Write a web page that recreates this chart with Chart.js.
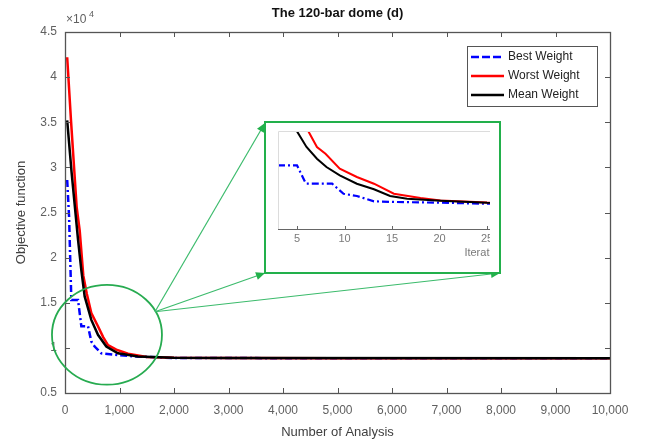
<!DOCTYPE html>
<html>
<head>
<meta charset="utf-8">
<script src="https://cdn.jsdelivr.net/npm/chart.js@4.4.0/dist/chart.umd.min.js"></script>
<style>
html, body { margin: 0; padding: 0; background: #fff; }
#wrap { position: relative; width: 647px; height: 440px; }
#main { position: absolute; left: 0; top: 0; }
#zoomBox { position: absolute; left: 264px; top: 121px; width: 233px; height: 149px; border: 2px solid #22b04b; background: #fff; }
#zoomClip { position: absolute; left: 2px; top: 2px; width: 222px; height: 145px; overflow: hidden; }
#inset { position: absolute; left: 0; top: 0; }
</style>
</head>
<body>
<div id="wrap">
  <canvas id="main" width="647" height="440"></canvas>
  <div id="zoomBox"><div id="zoomClip"><canvas id="inset" width="440" height="145"></canvas></div></div>
</div>
<script>
// main chart data (number of analyses -> objective function)
const bestX  = [40, 75, 116, 239, 300, 422, 483, 544, 667, 911, 1278, 2000, 4000, 10000];
const bestY  = [28600, 24500, 15300, 15300, 12400, 12400, 10700, 10150, 9400, 9240, 9050, 8880, 8860, 8850];
const worstX = [40, 110, 214, 270, 336, 400, 483, 605, 700, 789, 942, 1156, 1500, 2000, 3000, 5000, 10000];
const worstY = [42200, 35200, 25600, 23000, 18000, 16000, 13850, 12400, 11200, 10300, 9800, 9350, 9000, 8900, 8870, 8860, 8860];
const meanX  = [40, 120, 239, 300, 361, 483, 605, 758, 972, 1339, 2000, 3000, 10000];
const meanY  = [35200, 29500, 22000, 18600, 15700, 13100, 11450, 10150, 9400, 9050, 8900, 8870, 8860];

const xTicksMax = 10000;
const yTicks = [5000, 45000];

// inset data (iterations -> objective function)
const inBestX  = [3, 5, 5.85, 6, 8.7, 9.9, 11.3, 13.1, 15.2, 20, 25, 35, 47];
const inBestY  = [9067, 9067, 8906, 8889, 8889, 8792, 8770, 8718, 8712, 8705, 8695, 8690, 8690];
const inWorstX = [5.8, 6.2, 7.1, 8, 9.5, 11.3, 13.1, 15.2, 18, 20.1, 25, 35, 47];
const inWorstY = [9600, 9397, 9245, 9180, 9035, 8954, 8889, 8792, 8750, 8727, 8708, 8700, 8700];
const inMeanX  = [4.5, 5, 6, 7.1, 8.1, 9.5, 11.3, 13.1, 14.8, 16.6, 20.1, 25, 35, 47];
const inMeanY  = [9600, 9397, 9245, 9131, 9051, 8970, 8889, 8835, 8770, 8744, 8724, 8705, 8700, 8700];

// zoom marker: ellipse (data units) and the point the lines leave from
const ring = { cx: 770, cy: 11450, rx: 1009, ry: 5530 };
const ringOut = { x: 1651, y: 14000 };
const boxCorners = [[265, 123], [265, 273], [500, 273]];

const FONT = "'Liberation Sans', Arial, sans-serif";
const pts = (xs, ys) => xs.map((x, i) => ({ x: x, y: ys[i] }));

// MATLAB-style inward ticks + box
const inTicks = {
  id: 'inTicks',
  afterDraw(chart, args, o) {
    const { ctx, chartArea: a, scales } = chart;
    ctx.save();
    ctx.strokeStyle = o.color;
    ctx.lineWidth = 1;
    ctx.beginPath();
    scales.x.ticks.forEach(t => {
      const px = Math.round(scales.x.getPixelForValue(t.value)) + 0.5;
      ctx.moveTo(px, a.bottom); ctx.lineTo(px, a.bottom - o.len);
      if (o.box) { ctx.moveTo(px, a.top); ctx.lineTo(px, a.top + o.len); }
    });
    if (o.box) {
      scales.y.ticks.forEach(t => {
        const py = Math.round(scales.y.getPixelForValue(t.value)) + 0.5;
        ctx.moveTo(a.left, py); ctx.lineTo(a.left + o.len, py);
        ctx.moveTo(a.right, py); ctx.lineTo(a.right - o.len, py);
      });
    }
    ctx.stroke();
    if (o.box) {
      ctx.lineWidth = 1.3;
      ctx.strokeRect(Math.round(a.left) + 0.5, Math.round(a.top) + 0.5, Math.round(a.right - a.left), Math.round(a.bottom - a.top));
    } else {
      ctx.strokeStyle = '#dcdcdc';
      ctx.beginPath();
      ctx.moveTo(a.left + 0.5, a.bottom); ctx.lineTo(a.left + 0.5, a.top + 0.5); ctx.lineTo(a.right, a.top + 0.5);
      ctx.stroke();
      ctx.strokeStyle = o.color;
      ctx.beginPath();
      ctx.moveTo(a.left, a.bottom + 0.5); ctx.lineTo(a.right, a.bottom + 0.5);
      ctx.stroke();
    }
    ctx.restore();
  }
};

// legend box, exponent label, zoom ring and arrows
const extras = {
  id: 'extras',
  afterDraw(chart) {
    const { ctx, chartArea: a, scales } = chart;
    const xs = scales.x, ys = scales.y;
    ctx.save();

    // x10^4
    ctx.fillStyle = '#606060';
    ctx.font = '12px ' + FONT;
    ctx.textBaseline = 'alphabetic';
    ctx.fillText('\u00d710', a.left + 1, a.top - 9);
    ctx.font = '9px ' + FONT;
    ctx.fillText('4', a.left + 24, a.top - 15);

    // ring
    const cx = xs.getPixelForValue(ring.cx), cy = ys.getPixelForValue(ring.cy);
    const rx = xs.getPixelForValue(ring.cx + ring.rx) - cx;
    const ry = cy - ys.getPixelForValue(ring.cy + ring.ry);
    ctx.strokeStyle = '#27ab50';
    ctx.lineWidth = 1.8;
    ctx.beginPath();
    ctx.ellipse(cx, cy, rx, ry, 0, 0, Math.PI * 2);
    ctx.stroke();

    // lines with arrowheads
    const ox = xs.getPixelForValue(ringOut.x), oy = ys.getPixelForValue(ringOut.y);
    ctx.strokeStyle = '#3cbb6c';
    ctx.fillStyle = '#22b04b';
    ctx.lineWidth = 1.2;
    boxCorners.forEach(([ex, ey]) => {
      ctx.beginPath();
      ctx.moveTo(ox, oy); ctx.lineTo(ex, ey);
      ctx.stroke();
      const ang = Math.atan2(ey - oy, ex - ox), L = 9, W = 4;
      ctx.beginPath();
      ctx.moveTo(ex, ey);
      ctx.lineTo(ex - L * Math.cos(ang) + W * Math.sin(ang), ey - L * Math.sin(ang) - W * Math.cos(ang));
      ctx.lineTo(ex - L * Math.cos(ang) - W * Math.sin(ang), ey - L * Math.sin(ang) + W * Math.cos(ang));
      ctx.closePath();
      ctx.fill();
    });

    // legend
    const lx = a.right - 143, ly = a.top + 14, lw = 130, lh = 60;
    ctx.fillStyle = '#fff';
    ctx.fillRect(lx, ly, lw, lh);
    ctx.strokeStyle = '#555';
    ctx.lineWidth = 1;
    ctx.strokeRect(lx + 0.5, ly + 0.5, lw, lh);
    ctx.font = '12px ' + FONT;
    ctx.textBaseline = 'middle';
    chart.data.datasets.forEach((ds, i) => {
      const yy = ly + 11 + i * 19;
      ctx.strokeStyle = ds.borderColor;
      ctx.lineWidth = 2.5;
      ctx.setLineDash(ds.borderDash ? [8, 3] : []);
      ctx.beginPath();
      ctx.moveTo(lx + 4, yy); ctx.lineTo(lx + 37, yy);
      ctx.stroke();
      ctx.setLineDash([]);
      ctx.fillStyle = '#222';
      ctx.fillText(ds.label, lx + 41, yy);
    });
    ctx.restore();
  }
};

new Chart(document.getElementById('main'), {
  type: 'line',
  data: {
    datasets: [
      { label: 'Best Weight', data: pts(bestX, bestY), borderColor: '#0000ff', borderWidth: 2.5, borderDash: [7, 3, 2, 3], pointRadius: 0, tension: 0, order: 3 },
      { label: 'Worst Weight', data: pts(worstX, worstY), borderColor: '#ff0000', borderWidth: 2.5, pointRadius: 0, tension: 0, order: 2 },
      { label: 'Mean Weight', data: pts(meanX, meanY), borderColor: '#000000', borderWidth: 2.5, pointRadius: 0, tension: 0, order: 1 }
    ]
  },
  options: {
    responsive: false,
    animation: false,
    layout: { padding: { left: 0, right: 37, top: 0, bottom: 0 } },
    plugins: {
      legend: { display: false },
      tooltip: { enabled: false },
      title: {
        display: true, text: 'The 120-bar dome (d)', fullSize: false,
        color: '#111', font: { family: FONT, size: 13, weight: 'bold' },
        padding: { top: 6, bottom: 10.4 }
      },
      inTicks: { color: '#555', len: 5, box: true }
    },
    scales: {
      x: {
        type: 'linear', min: 0, max: xTicksMax,
        grid: { display: false, drawTicks: false },
        border: { display: false },
        ticks: { stepSize: 1000, padding: 10, color: '#606060', font: { family: FONT, size: 12 },
                 maxRotation: 0, callback: v => v.toLocaleString('en-US') },
        title: { display: true, text: 'Number of Analysis', color: '#404040', font: { family: FONT, size: 13 }, padding: { top: 0, bottom: 0 } },
        afterFit: s => { s.height = 47; }
      },
      y: {
        type: 'linear', min: yTicks[0], max: yTicks[1],
        grid: { display: false, drawTicks: false },
        border: { display: false },
        ticks: { stepSize: 5000, padding: 8, color: '#606060', font: { family: FONT, size: 12 },
                 callback: v => String(v / 10000) },
        title: { display: true, text: 'Objective function', color: '#404040', font: { family: FONT, size: 13 }, padding: { top: 14, bottom: 0 } },
        afterFit: s => { s.width = 65; }
      }
    }
  },
  plugins: [inTicks, extras]
});

new Chart(document.getElementById('inset'), {
  type: 'line',
  data: {
    datasets: [
      { label: 'Best Weight', data: pts(inBestX, inBestY), borderColor: '#0000ff', borderWidth: 2.2, borderDash: [7, 3, 2, 3], pointRadius: 0, tension: 0, order: 3 },
      { label: 'Worst Weight', data: pts(inWorstX, inWorstY), borderColor: '#ff0000', borderWidth: 2, pointRadius: 0, tension: 0, order: 2 },
      { label: 'Mean Weight', data: pts(inMeanX, inMeanY), borderColor: '#000000', borderWidth: 2, pointRadius: 0, tension: 0, order: 1 }
    ]
  },
  options: {
    responsive: false,
    animation: false,
    layout: { padding: { left: 10, right: 12, top: 6, bottom: 0 } },
    plugins: {
      legend: { display: false },
      tooltip: { enabled: false },
      inTicks: { color: '#666', len: 3, box: false }
    },
    scales: {
      x: {
        type: 'linear', min: 3, max: 47,
        grid: { display: false, drawTicks: false },
        border: { display: false },
        ticks: { stepSize: 5, includeBounds: false, padding: 3, color: '#7a7a7a', font: { family: FONT, size: 11 }, maxRotation: 0 },
        title: { display: true, text: 'Iterations', color: '#7a7a7a', font: { family: FONT, size: 11 }, padding: { top: 0, bottom: 10 } },
        afterFit: s => { s.height = 41; }
      },
      y: { type: 'linear', min: 8450, max: 9400, display: false }
    }
  },
  plugins: [inTicks]
});
</script>
</body>
</html>
